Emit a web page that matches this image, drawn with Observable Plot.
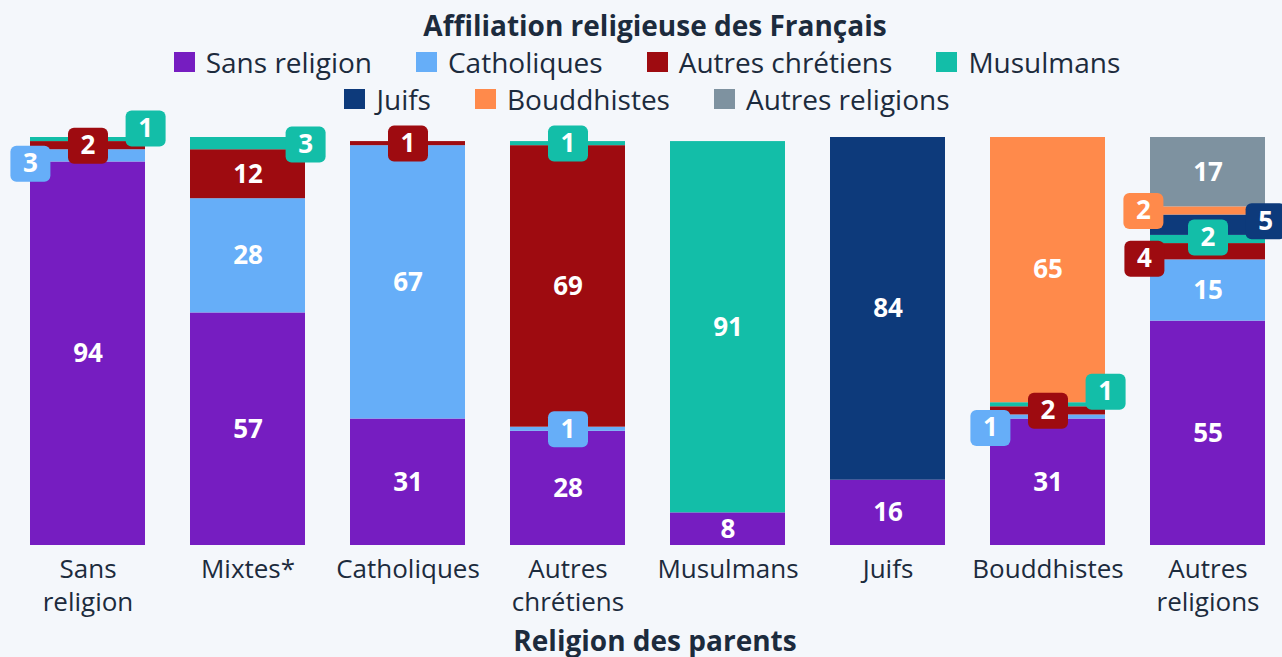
<!DOCTYPE html>
<html>
<head>
<meta charset="utf-8">
<script src="https://cdn.jsdelivr.net/npm/d3@7"></script>
<script src="https://cdn.jsdelivr.net/npm/@observablehq/plot@0.6"></script>
<style>
  html, body { margin: 0; padding: 0; background: #f4f7fb; }
  body { position: relative; width: 1282px; height: 657px; overflow: hidden; font-family: "Open Sans", sans-serif; color: #1c2b3d; }
  #title { position: absolute; left: 28px; right: 0; top: 5px; height: 40px; line-height: 40px; text-align: center; font-weight: 700; font-size: 28px; }
  .lrow { position: absolute; left: 12px; right: 0; height: 36px; display: flex; justify-content: center; align-items: center; font-size: 28px; }
  .item { display: flex; align-items: center; margin: 0 22px; }
  .sw { width: 21px; height: 20px; margin-right: 11px; }
  #chart { position: absolute; left: 0; top: 117px; }
  #chart svg { display: block; }
</style>
</head>
<body>
<div id="title">Affiliation religieuse des Français</div>
<div id="legend"></div>
<div id="chart"></div>
<script>
const categories = ["Sans religion","Mixtes","Catholiques","Autres chrétiens","Musulmans","Juifs","Bouddhistes","Autres religions"];
const tickLabels = ["Sans\nreligion","Mixtes*","Catholiques","Autres\nchrétiens","Musulmans","Juifs","Bouddhistes","Autres\nreligions"];
const seriesNames = ["Sans religion","Catholiques","Autres chrétiens","Musulmans","Juifs","Bouddhistes","Autres religions"];
const sansReligion    = [94,57,31,28, 8,16,31,55];
const catholiques     = [ 3,28,67, 1, 0, 0, 1,15];
const autresChretiens = [ 2,12, 1,69, 0, 0, 2, 4];
const musulmans       = [ 1, 3, 0, 1,91, 0, 1, 2];
const juifs           = [ 0, 0, 0, 0, 0,84, 0, 5];
const bouddhistes     = [ 0, 0, 0, 0, 0, 0,65, 2];
const autresReligions = [ 0, 0, 0, 0, 0, 0, 0,17];
const seriesValues = [sansReligion, catholiques, autresChretiens, musulmans, juifs, bouddhistes, autresReligions];
const colors = ["#761dc1","#66aef8","#9e0b10","#13bea8","#0d3a7b","#ff8a4b","#7e92a0"];
const textColor = "#1c2b3d";
const axisTitle = "Religion des parents";

// badge layout for small segments: [anchor, dy(px), dx nudge(px)]
const badgeLayout = {
  "Sans religion|Catholiques": ["left", 8, 0],
  "Sans religion|Autres chrétiens": ["center", 0, 0],
  "Sans religion|Musulmans": ["right", -11, 0],
  "Mixtes|Musulmans": ["right", 1, 0],
  "Catholiques|Autres chrétiens": ["center", 0, 0],
  "Autres chrétiens|Musulmans": ["center", 0, 0],
  "Autres chrétiens|Catholiques": ["center", 0, 0],
  "Bouddhistes|Catholiques": ["left", 11, 0],
  "Bouddhistes|Autres chrétiens": ["center", 0, 0],
  "Bouddhistes|Musulmans": ["right", -13, 0],
  "Autres religions|Bouddhistes": ["left", 0, -7],
  "Autres religions|Juifs": ["right", -4, 0],
  "Autres religions|Musulmans": ["center", -2, 0],
  "Autres religions|Autres chrétiens": ["left", 7, -6]
};

// legend
const legend = document.getElementById("legend");
[seriesNames.slice(0,4), seriesNames.slice(4)].forEach((names, r) => {
  const row = document.createElement("div");
  row.className = "lrow";
  row.style.top = (r === 0 ? 44 : 81) + "px";
  names.forEach(n => {
    const it = document.createElement("div");
    it.className = "item";
    const sw = document.createElement("div");
    sw.className = "sw";
    sw.style.background = colors[seriesNames.indexOf(n)];
    const t = document.createElement("span");
    t.textContent = n;
    it.appendChild(sw); it.appendChild(t);
    row.appendChild(it);
  });
  legend.appendChild(row);
});

// stacked rows
const rows = [];
categories.forEach((c, i) => {
  let acc = 0;
  seriesNames.forEach((s, j) => {
    const v = seriesValues[j][i];
    if (v > 0) {
      rows.push({parent: c, series: s, value: v, y1: acc, y2: acc + v, mid: acc + v / 2});
      acc += v;
    }
  });
});

const half = 0.72 * 160 / 2;
const badges = rows.filter(d => d.value <= 5).map(d => {
  const L = badgeLayout[d.parent + "|" + d.series] || ["center", 0, 0];
  const dx = (L[0] === "left" ? -half : L[0] === "right" ? half : 0) + L[2];
  return {...d, dx, dy: L[1]};
});

const roundedBadge = {
  draw(ctx) {
    const w = 40, h = 36, r = 6;
    const x0 = -w/2, y0 = -h/2, x1 = w/2, y1 = h/2;
    ctx.moveTo(x0 + r, y0);
    ctx.lineTo(x1 - r, y0);
    ctx.arcTo(x1, y0, x1, y0 + r, r);
    ctx.lineTo(x1, y1 - r);
    ctx.arcTo(x1, y1, x1 - r, y1, r);
    ctx.lineTo(x0 + r, y1);
    ctx.arcTo(x0, y1, x0, y1 - r, r);
    ctx.lineTo(x0, y0 + r);
    ctx.arcTo(x0, y0, x0 + r, y0, r);
    ctx.closePath();
  }
};

const ticks = categories.map((c, i) => ({cat: c, label: tickLabels[i]}));

const chart = Plot.plot({
  width: 1282,
  height: 540,
  marginTop: 20,
  marginBottom: 112,
  marginLeft: 13,
  marginRight: 0,
  style: {fontFamily: "Open Sans, sans-serif", background: "transparent", overflow: "visible"},
  x: {domain: categories, paddingInner: 0.28, paddingOuter: 0.105, axis: null},
  y: {domain: [0, 100], axis: null},
  color: {domain: seriesNames, range: colors},
  marks: [
    Plot.barY(rows, {x: "parent", y1: "y1", y2: "y2", fill: "series"}),
    Plot.text(rows.filter(d => d.value > 5), {x: "parent", y: "mid", text: d => String(d.value), fill: "white", fontSize: 26, fontWeight: 700}),
    ...badges.flatMap(b => [
      Plot.dot([b], {x: "parent", y: "mid", dx: b.dx, dy: b.dy, symbol: roundedBadge, fill: "series", r: 10}),
      Plot.text([b], {x: "parent", y: "mid", dx: b.dx, dy: b.dy, text: d => String(d.value), fill: "white", fontSize: 26, fontWeight: 700})
    ]),
    Plot.text(ticks, {x: "cat", y: () => 0, dy: 8, lineAnchor: "top", text: "label", fontSize: 26, lineHeight: 1.3, fill: textColor}),
    Plot.text([axisTitle], {frameAnchor: "bottom", lineAnchor: "middle", dx: 7, dy: 97, text: d => d, fontSize: 28, fontWeight: 700, fill: textColor})
  ]
});
document.getElementById("chart").appendChild(chart);
</script>
</body>
</html>
